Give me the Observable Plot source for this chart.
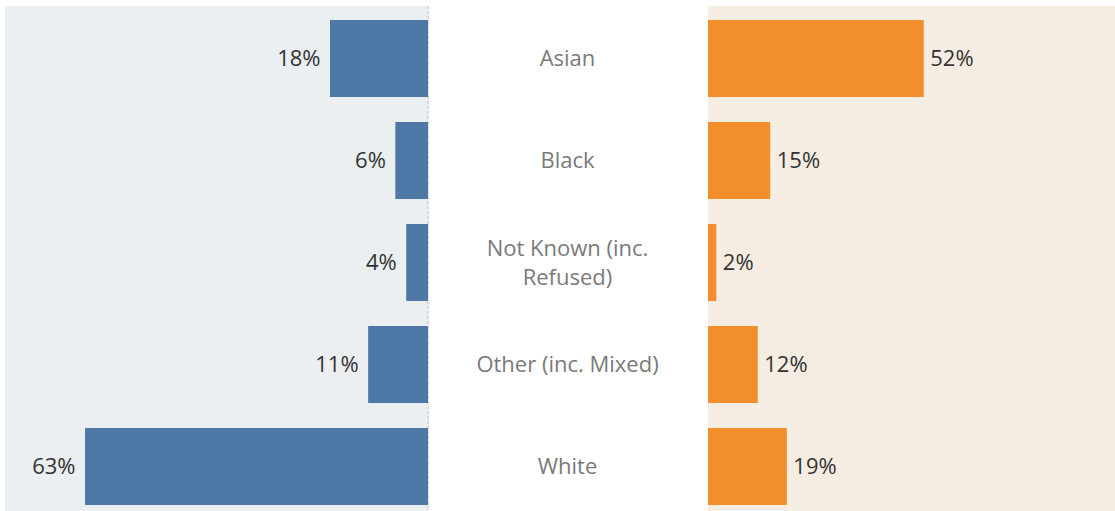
<!DOCTYPE html>
<html>
<head>
<meta charset="utf-8">
<script src="https://cdn.jsdelivr.net/npm/d3@7"></script>
<script src="https://cdn.jsdelivr.net/npm/@observablehq/plot@0.6"></script>
<style>
  html, body { margin: 0; padding: 0; background: #ffffff; }
  #wrap { position: relative; width: 1115px; height: 511px; overflow: hidden; font-family: "Open Sans", Lato, sans-serif; }
  .panel { position: absolute; top: 6px; }
</style>
</head>
<body>
<div id="wrap">
  <div id="left" class="panel" style="left:5px;"></div>
  <div id="mid" class="panel" style="left:428px;"></div>
  <div id="right" class="panel" style="left:708px;"></div>
</div>
<script>
const categories = ["Asian", "Black", "Not Known (inc.\nRefused)", "Other (inc. Mixed)", "White"];
const leftValues = [18, 6, 4, 11, 63];
const rightValues = [52, 15, 2, 12, 19];

const leftData = categories.map((c, i) => ({category: c, value: leftValues[i]}));
const rightData = categories.map((c, i) => ({category: c, value: rightValues[i]}));

const H = 505;
const yScale = () => ({type: "band", domain: categories, range: [1.5, 511.5], paddingInner: 0.245, paddingOuter: 0.1225, round: false, axis: null});
const font = "'Open Sans', Lato, sans-serif";
const FS = 22;

const left = Plot.plot({
  width: 424, height: H,
  marginLeft: 0, marginRight: 1, marginTop: 0, marginBottom: 0,
  style: {background: "#ebeff2", fontFamily: font, overflow: "visible"},
  x: {domain: [0, 77.7], reverse: true, axis: null},
  y: yScale(),
  marks: [
    Plot.ruleX([0], {stroke: "#c4c4c4", strokeDasharray: "3,2", dx: -0.5}),
    Plot.barX(leftData, {x: "value", y: "category", fill: "#4e79a7"}),
    Plot.text(leftData, {x: "value", y: "category", text: d => d.value + "%", textAnchor: "end", dx: -10, fill: "#333333", fontSize: FS})
  ]
});
document.getElementById("left").appendChild(left);

const mid = Plot.plot({
  width: 278, height: H,
  marginLeft: 0, marginRight: 0, marginTop: 0, marginBottom: 0,
  style: {background: "transparent", fontFamily: font, overflow: "visible"},
  y: yScale(),
  marks: [
    Plot.text(categories, {y: d => d, text: d => d, frameAnchor: "middle", dy: -2, fill: "#7a7a7a", fontSize: FS, lineHeight: 1.32})
  ]
});
document.getElementById("mid").appendChild(mid);

const right = Plot.plot({
  width: 407, height: H,
  marginLeft: 0, marginRight: 0, marginTop: 0, marginBottom: 0,
  style: {background: "#f5ede2", fontFamily: font, overflow: "visible"},
  x: {domain: [0, 98.1], axis: null},
  y: yScale(),
  marks: [
    Plot.barX(rightData, {x: "value", y: "category", fill: "#f28e2b"}),
    Plot.text(rightData, {x: "value", y: "category", text: d => d.value + "%", textAnchor: "start", dx: 6, fill: "#333333", fontSize: FS})
  ]
});
document.getElementById("right").appendChild(right);
</script>
</body>
</html>
